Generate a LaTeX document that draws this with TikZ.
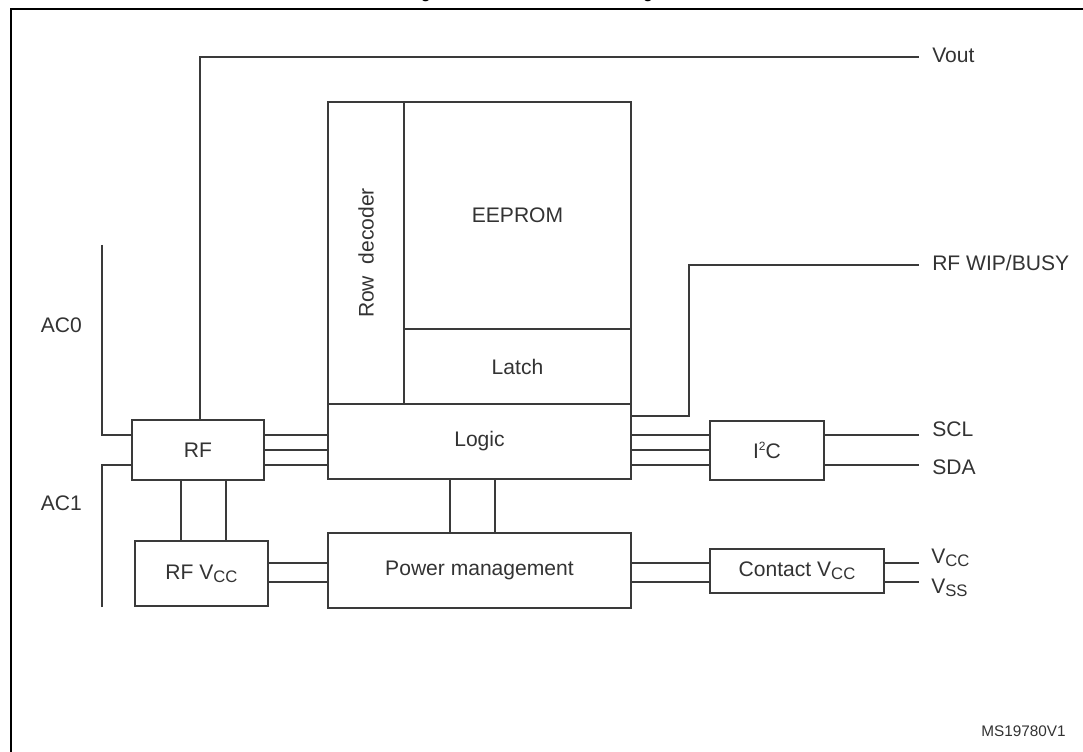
\documentclass[tikz,border=0pt]{standalone}
\usepackage{fontspec}
\setmainfont{Liberation Sans}
\definecolor{ln}{HTML}{3A3A3A}
\definecolor{tx}{HTML}{333333}
\newcommand{\subs}[1]{\raisebox{-2.4pt}{\fontsize{12.5}{14}\selectfont #1}}
\newcommand{\sups}[1]{\raisebox{6pt}{\fontsize{9}{10}\selectfont #1}}
\begin{document}
\begin{tikzpicture}[x=0.75pt,y=-0.75pt,
  line/.style={draw=ln, line width=1.5pt},
  box/.style={draw=ln, line width=1.5pt, inner sep=0pt, outer sep=0pt, text=tx, font=\fontsize{15.8}{18}\selectfont},
  lbl/.style={text=tx, font=\fontsize{15.8}{18}\selectfont, inner sep=0pt, anchor=base west},
]
\useasboundingbox (0,0) rectangle (1083,752);
\clip (0,0) rectangle (1083,752);
\fill[white] (0,0) rectangle (1083,752);
\draw[black, line width=1.9pt] (11,9) rectangle (1100,780);
\node[font=\bfseries\fontsize{11.6}{13}\selectfont, anchor=base west, inner sep=0pt] (title) at (407,-1.5) {Figure 1. M24LR64E-R block diagram};

% boxes
\node[box, minimum width=57pt, minimum height=226.5pt] (rowdec) at (366,253) {};
\node[rotate=90, text=tx, font=\fontsize{15.8}{18}\selectfont, inner sep=0pt] (rowdeclbl) at (rowdec.center) {Row\ \ decoder};
\node[box, minimum width=170.25pt, minimum height=170.25pt] (eeprom) at (517.5,215.5) {EEPROM};
\node[box, minimum width=170.25pt, minimum height=56.25pt] (latch) at (517.5,366.5) {Latch};
\node[box, minimum width=227.25pt, minimum height=56.25pt] (logic) at (479.5,441.5) {Logic};
\node[box, minimum width=99pt, minimum height=45pt] (rf) at (198,450) {RF};
\node[box, minimum width=99.75pt, minimum height=48.75pt] (rfvcc) at (201.5,573.5) {RF V\subs{CC}};
\node[box, minimum width=227.25pt, minimum height=56.25pt] (pm) at (479.5,570.5) {Power management};
\node[box, minimum width=85.5pt, minimum height=44.25pt] (i2c) at (767,450.5) {I\sups{2}C};
\node[box, minimum width=130.5pt, minimum height=33pt] (cvcc) at (797,571) {Contact V\subs{CC}};

% helper coordinates
\coordinate (Y1) at (0,435);
\coordinate (Y2) at (0,450);
\coordinate (Y3) at (0,465);
\coordinate (Yp1) at (0,563);
\coordinate (Yp2) at (0,582);
\coordinate (R) at (919,0);
\coordinate (X0) at (200,0);
\coordinate (X1) at (181,0);
\coordinate (X2) at (226,0);
\coordinate (X3) at (450,0);
\coordinate (X4) at (495,0);
\coordinate (voutend) at (919,57);
\coordinate (wipend) at (919,265);
\coordinate (wipx) at (689,416);
\coordinate (ac0top) at (102,245);
\coordinate (ac1bot) at (102,607);

% connectors
\foreach \k in {1,2,3} {
  \draw[line] (rf.east |- Y\k) -- (logic.west |- Y\k);
  \draw[line] (logic.east |- Y\k) -- (i2c.west |- Y\k);
}
\draw[line] (i2c.east |- Y1) -- (R |- Y1);
\draw[line] (i2c.east |- Y3) -- (R |- Y3);
\draw[line] (rf.south -| X1) -- (rfvcc.north -| X1);
\draw[line] (rf.south -| X2) -- (rfvcc.north -| X2);
\draw[line] (logic.south -| X3) -- (pm.north -| X3);
\draw[line] (logic.south -| X4) -- (pm.north -| X4);
\foreach \k in {1,2} {
  \draw[line] (rfvcc.east |- Yp\k) -- (pm.west |- Yp\k);
  \draw[line] (pm.east |- Yp\k) -- (cvcc.west |- Yp\k);
  \draw[line] (cvcc.east |- Yp\k) -- (R |- Yp\k);
}
\draw[line] (rf.north -| X0) |- (voutend);
\draw[line] (logic.east |- wipx) -- (wipx) |- (wipend);
\draw[line] (ac0top) |- (rf.west |- Y1);
\draw[line] (ac1bot) |- (rf.west |- Y3);

% labels
\node[lbl] (vout) at (932,63) {Vout};
\node[lbl] (wip) at (932,271) {RF WIP/BUSY};
\node[lbl] (scl) at (932,437) {SCL};
\node[lbl] (sda) at (932,475) {SDA};
\node[lbl] (vcc) at (931,563) {V\subs{CC}};
\node[lbl] (vss) at (931,593) {V\subs{SS}};
\node[lbl, anchor=base east] (ac0) at (82,333) {AC0};
\node[lbl, anchor=base east] (ac1) at (82,511) {AC1};
\node[text=tx, font=\fontsize{11.5}{13}\selectfont, anchor=base east, inner sep=0pt] (ms) at (1066,736) {MS19780V1};
\end{tikzpicture}
\end{document}
